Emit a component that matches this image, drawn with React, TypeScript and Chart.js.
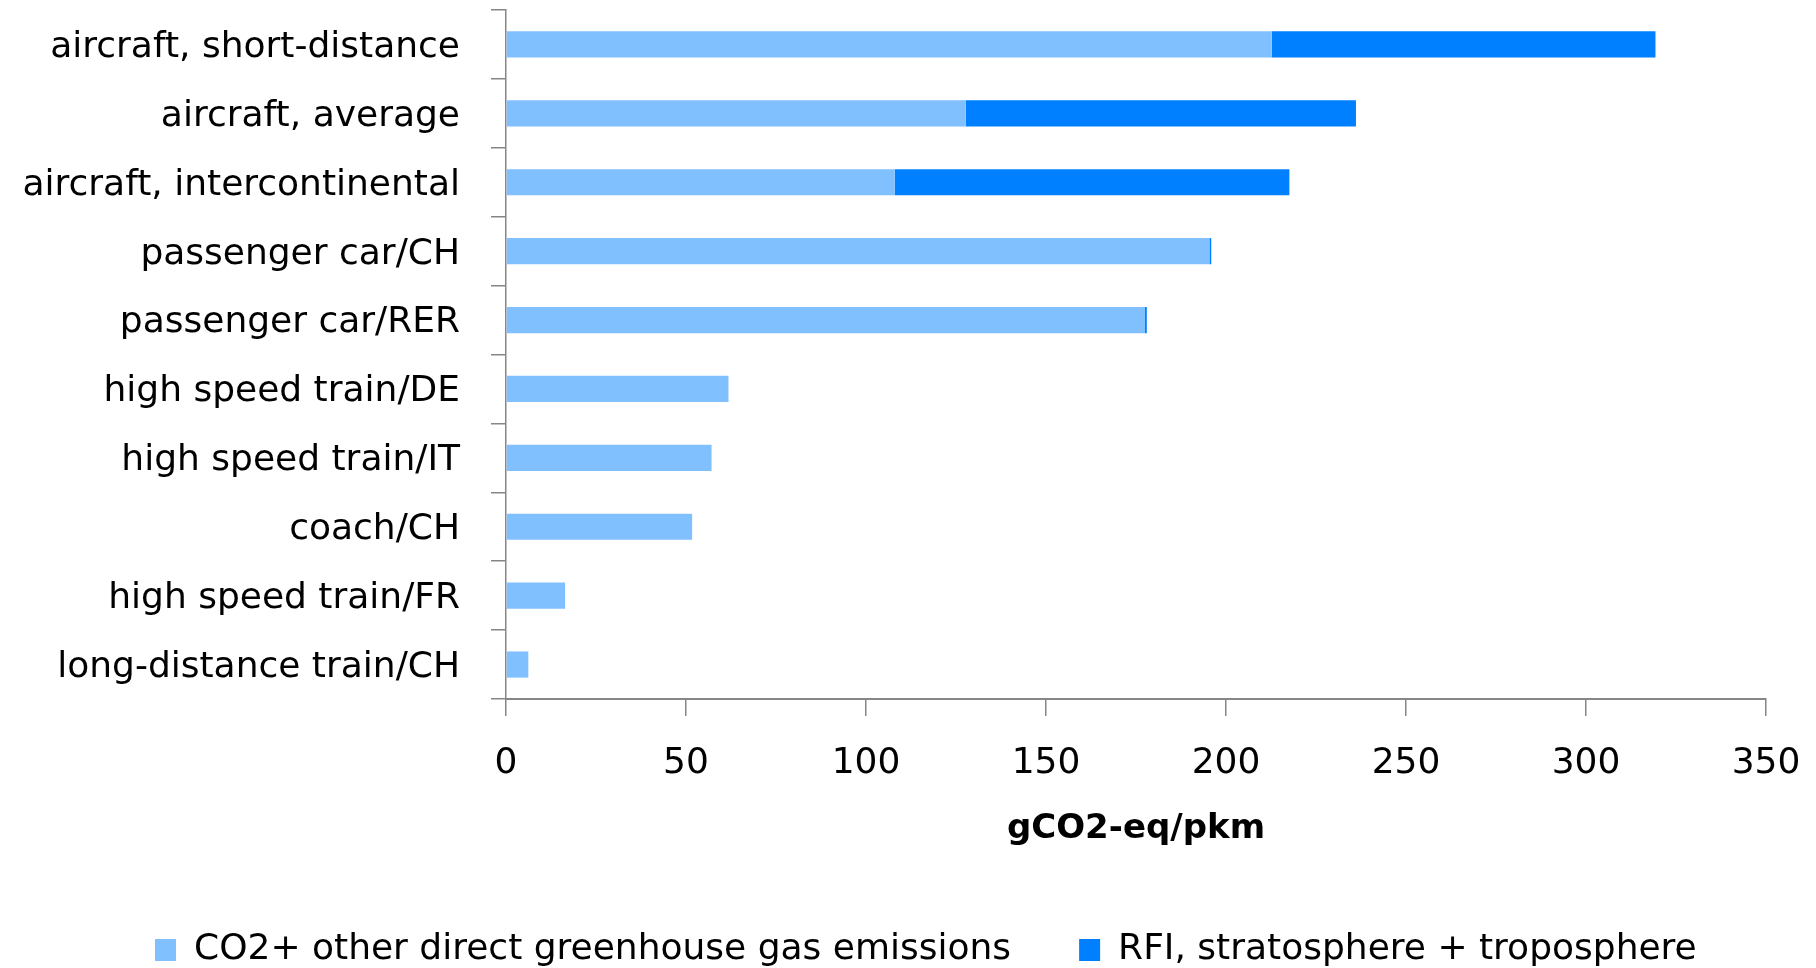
import React, { useEffect, useRef } from "react";
import { Chart, registerables } from "chart.js";

Chart.register(...registerables);

const categories = [
  "aircraft, short-distance",
  "aircraft, average",
  "aircraft, intercontinental",
  "passenger car/CH",
  "passenger car/RER",
  "high speed train/DE",
  "high speed train/IT",
  "coach/CH",
  "high speed train/FR",
  "long-distance train/CH",
];

const directEmissions = [212.7, 127.7, 108.0, 195.4, 177.5, 61.8, 57.1, 51.7, 16.4, 6.2];
const rfiEmissions = [106.6, 108.4, 109.6, 0.5, 0.5, 0, 0, 0, 0, 0];

const seriesNames = [
  "CO2+ other direct greenhouse gas emissions",
  "RFI, stratosphere + troposphere",
];

const xTicks = [0, 50, 100, 150, 200, 250, 300, 350];
const xTitle = "gCO2-eq/pkm";

const FONT = "'DejaVu Sans', sans-serif";

const LEGEND_SHIFT = 87;

const shiftLegend = {
  id: "shiftLegend",
  afterLayout(chart: any) {
    const l = chart.legend;
    if (l) {
      l.left += LEGEND_SHIFT;
      l.right += LEGEND_SHIFT;
    }
  },
};

export default function App() {
  const ref = useRef<HTMLCanvasElement | null>(null);

  useEffect(() => {
    const canvas = ref.current;
    if (!canvas) return;
    const chart = new Chart(canvas, {
      type: "bar",
      plugins: [shiftLegend],
      data: {
        labels: categories,
        datasets: [
          {
            label: seriesNames[0],
            data: directEmissions,
            backgroundColor: "#80C0FF",
            borderWidth: 0,
            barPercentage: 0.38,
            categoryPercentage: 1,
          },
          {
            label: seriesNames[1],
            data: rfiEmissions,
            backgroundColor: "#0080FF",
            borderWidth: 0,
            barPercentage: 0.38,
            categoryPercentage: 1,
          },
        ],
      },
      options: {
        indexAxis: "y",
        animation: false,
        responsive: false,
        devicePixelRatio: 1,
        layout: { padding: { top: 10, right: 50, left: 0, bottom: 0 } },
        plugins: {
          tooltip: { enabled: false },
          legend: {
            position: "bottom",
            align: "start",
            maxHeight: 104,
            labels: {
              boxWidth: 21,
              boxHeight: 22,
              padding: 68,
              color: "#000000",
              font: { family: FONT, size: 36 },
            },
          },
        },
        scales: {
          x: {
            stacked: true,
            min: 0,
            max: 350,
            afterBuildTicks: (scale: any) => {
              scale.ticks = xTicks.map((v) => ({ value: v }));
            },
            afterFit: (scale: any) => {
              scale.height = 165;
              scale.paddingLeft = 0;
              scale.paddingRight = 0;
            },
            grid: {
              drawOnChartArea: false,
              drawTicks: true,
              tickLength: 17,
              color: "#868686",
              lineWidth: 1.5,
            },
            border: { display: true, color: "#868686", width: 2 },
            ticks: {
              padding: 26,
              color: "#000000",
              font: { family: FONT, size: 36 },
              maxRotation: 0,
            },
            title: {
              display: true,
              text: xTitle,
              color: "#000000",
              font: { family: FONT, size: 34, weight: "bold" },
              padding: { top: 0, bottom: 14 },
            },
          },
          y: {
            stacked: true,
            afterFit: (scale: any) => {
              scale.width = 506;
              scale.paddingTop = 0;
              scale.paddingBottom = 0;
            },
            grid: {
              drawOnChartArea: false,
              drawTicks: true,
              tickLength: 15,
              offset: true,
              color: "#868686",
              lineWidth: 1.5,
            },
            border: { display: true, color: "#868686", width: 1.5 },
            ticks: {
              padding: 31,
              labelOffset: 3,
              color: "#000000",
              font: { family: FONT, size: 36 },
              autoSkip: false,
            },
          },
        },
      },
    });
    return () => chart.destroy();
  }, []);

  return (
    <div style={{ position: "fixed", left: 0, top: 0, width: 1816, height: 968, background: "#ffffff" }}>
      <canvas ref={ref} width={1816} height={968} style={{ display: "block", width: 1816, height: 968 }} />
    </div>
  );
}
